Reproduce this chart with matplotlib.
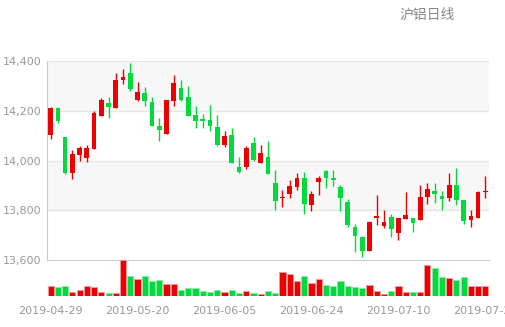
import numpy as np
import matplotlib
matplotlib.use("Agg")
import matplotlib.pyplot as plt

# trading days shown on the chart
dates = ["2019-04-29", "2019-04-30", "2019-05-06", "2019-05-07", "2019-05-08", "2019-05-09",
         "2019-05-10", "2019-05-13", "2019-05-14", "2019-05-15", "2019-05-16", "2019-05-17",
         "2019-05-20", "2019-05-21", "2019-05-22", "2019-05-23", "2019-05-24", "2019-05-27",
         "2019-05-28", "2019-05-29", "2019-05-30", "2019-05-31", "2019-06-03", "2019-06-04",
         "2019-06-05", "2019-06-06", "2019-06-10", "2019-06-11", "2019-06-12", "2019-06-13",
         "2019-06-14", "2019-06-17", "2019-06-18", "2019-06-19", "2019-06-20", "2019-06-21",
         "2019-06-24", "2019-06-25", "2019-06-26", "2019-06-27", "2019-06-28", "2019-07-01",
         "2019-07-02", "2019-07-03", "2019-07-04", "2019-07-05", "2019-07-08", "2019-07-09",
         "2019-07-10", "2019-07-11", "2019-07-12", "2019-07-15", "2019-07-16", "2019-07-17",
         "2019-07-18", "2019-07-19", "2019-07-22", "2019-07-23", "2019-07-24", "2019-07-25",
         "2019-07-26"]

open_ = [14103, 14212, 14093, 13949, 14024, 14009, 14048, 14178, 14231, 14212,
         14323, 14350, 14243, 14270, 14237, 14137, 14107, 14239, 14291, 14256,
         14181, 14168, 14161, 14133, 14064, 14102, 13972, 13973, 14072, 13988,
         14016, 13911, 13848, 13864, 13895, 13931, 13820, 13913, 13958, 13931,
         13893, 13832, 13733, 13694, 13635, 13769, 13735, 13773, 13710, 13765,
         13768, 13760, 13855, 13879, 13859, 13848, 13903, 13840, 13760, 13769,
         13872]
close = [14212, 14158, 13949, 14028, 14052, 14052, 14192, 14242, 14215, 14322,
         14337, 14288, 14276, 14239, 14138, 14122, 14242, 14310, 14243, 14178,
         14158, 14158, 14138, 14063, 14097, 13988, 13954, 14052, 14003, 14032,
         13945, 13836, 13854, 13898, 13931, 13824, 13867, 13931, 13929, 13921,
         13850, 13740, 13695, 13635, 13753, 13777, 13753, 13726, 13768, 13782,
         13750, 13852, 13887, 13864, 13844, 13903, 13843, 13756, 13778, 13875,
         13879]
high = [14214, 14214, 14095, 14044, 14060, 14064, 14201, 14250, 14255, 14350,
        14366, 14391, 14314, 14294, 14255, 14170, 14244, 14345, 14322, 14299,
        14221, 14185, 14225, 14181, 14117, 14130, 14016, 14060, 14093, 14064,
        14080, 13960, 13882, 13922, 13948, 13952, 13877, 13936, 13960, 13961,
        13903, 13846, 13746, 13696, 13758, 13863, 13803, 13783, 13770, 13875,
        13770, 13903, 13909, 13909, 13877, 13948, 13968, 13842, 13799, 13877,
        13936]
low = [14086, 14149, 13947, 13925, 14000, 13993, 14048, 14178, 14170, 14212,
       14309, 14279, 14239, 14219, 14138, 14080, 14107, 14219, 14239, 14178,
       14132, 14131, 14118, 14060, 14054, 13988, 13949, 13965, 14000, 13988,
       13945, 13801, 13812, 13850, 13881, 13785, 13796, 13860, 13890, 13897,
       13796, 13732, 13631, 13611, 13635, 13740, 13727, 13694, 13680, 13765,
       13711, 13760, 13824, 13831, 13799, 13839, 13820, 13746, 13734, 13769,
       13850]
volume = [300, 270, 300, 130, 180, 280, 250, 120, 80, 90,
          1040, 570, 480, 570, 440, 470, 360, 360, 180, 240,
          230, 150, 130, 170, 110, 170, 100, 140, 80, 60,
          150, 90, 680, 630, 430, 570, 390, 480, 310, 290,
          420, 300, 270, 240, 310, 140, 70, 150, 280, 110,
          120, 110, 900, 820, 560, 510, 450, 540, 280, 290,
          300]

up_color = "#ec0000"
down_color = "#00da3c"
text_color = "#999999"

x = np.arange(len(dates))
o = np.array(open_)
c = np.array(close)
h = np.array(high)
l = np.array(low)
up = c >= o
colors = np.where(up, up_color, down_color)

fig = plt.figure(figsize=(5.05, 3.27), dpi=100)
ax = fig.add_axes([47 / 505, 67 / 327, 442 / 505, 199 / 327])
axv = fig.add_axes([47 / 505, 31 / 327, 442 / 505, 36 / 327])

# light split areas
for y0, y1 in [(14200, 14400), (13800, 14000)]:
    ax.axhspan(y0, y1, color="#f7f7f7", zorder=0, lw=0)
for yy in [13800, 14000, 14200, 14400]:
    ax.axhline(yy, color="#e6e6e6", lw=1, zorder=1)

# candles
ax.vlines(x, l, h, colors=colors, lw=1, zorder=2)
body_bottom = np.minimum(o, c)
body_height = np.maximum(np.abs(c - o), 4)
ax.bar(x, body_height, bottom=body_bottom, width=0.65, color=colors, lw=0, zorder=3)

ax.set_xlim(-0.5, len(dates) - 0.5)
ax.set_ylim(13600, 14400)
ax.set_yticks([13600, 13800, 14000, 14200, 14400])
ax.set_yticklabels(["13,600", "13,800", "14,000", "14,200", "14,400"])
ax.set_xticks([])
ax.tick_params(axis="y", length=0, pad=4, labelsize=8, colors=text_color)
for side in ["top", "right"]:
    ax.spines[side].set_visible(False)
ax.spines["left"].set_color("#cccccc")
ax.spines["bottom"].set_color("#cccccc")

# volume
edge = np.where(up, "#f49a9a", "#8fe8a6")
axv.bar(x, volume, width=0.85, color=colors, edgecolor=edge, lw=0.7)
axv.set_xlim(-0.5, len(dates) - 0.5)
axv.set_ylim(0, max(volume))
axv.set_yticks([])
axv.set_xticks(x[::12])
axv.set_xticklabels([dates[i] for i in x[::12]])
axv.tick_params(axis="x", length=0, pad=7, labelsize=8, colors=text_color)
for side in axv.spines:
    axv.spines[side].set_visible(False)
axv.patch.set_alpha(0)

fig.text(427 / 505, 1 - 15 / 327, "沪铝日线", ha="center", va="center",
         fontsize=10, color="#888888", family=["Noto Sans CJK SC", "DejaVu Sans"])

fig.savefig("out.png", dpi=100)
